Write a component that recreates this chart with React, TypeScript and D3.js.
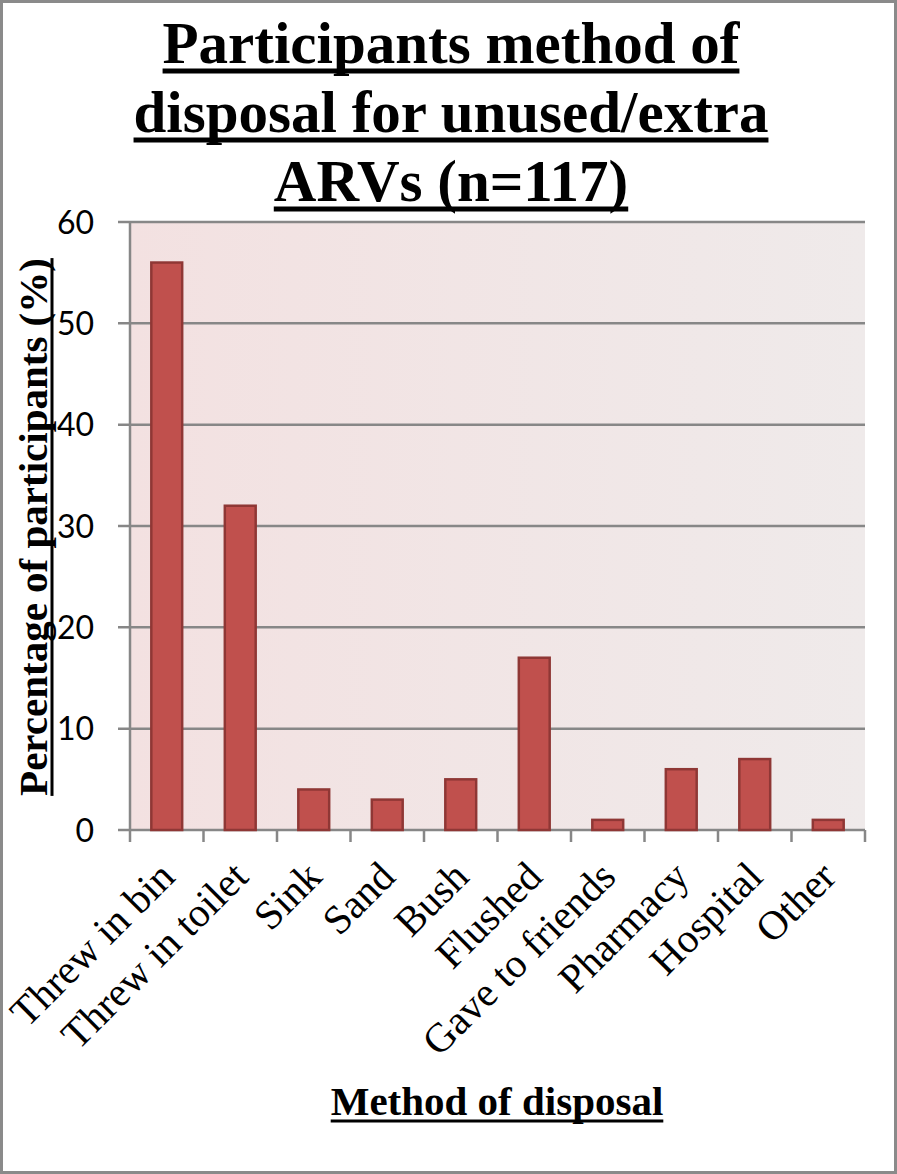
import React, { useEffect, useRef } from "react";
import * as d3 from "d3";

const categories = [
  "Threw in bin",
  "Threw in toilet",
  "Sink",
  "Sand",
  "Bush",
  "Flushed",
  "Gave to friends",
  "Pharmacy",
  "Hospital",
  "Other",
];
const percentages = [56, 32, 4, 3, 5, 17, 1, 6, 7, 1];
const yTicks = [0, 10, 20, 30, 40, 50, 60];
const titleLines = ["Participants method of", "disposal for unused/extra", "ARVs (n=117)"];
const yAxisTitle = "Percentage of participants (%)";
const xAxisTitle = "Method of disposal";

const W = 897;
const H = 1174;
const SERIF = "'Liberation Serif', 'Times New Roman', serif";
const SANS = "Lato, 'Liberation Sans', sans-serif";

const App = () => {
  const svgRef = useRef<SVGSVGElement>(null);

  useEffect(() => {
    const root = d3.select(svgRef.current);
    root.selectAll("*").remove();

    const margin = { top: 222, right: 32, bottom: 344, left: 130 };
    const innerW = W - margin.left - margin.right;
    const innerH = H - margin.top - margin.bottom;

    // plot area gradient (pinkish left -> greyish right)
    const defs = root.append("defs");
    const grad = defs
      .append("linearGradient")
      .attr("id", "plotBg")
      .attr("x1", "0%")
      .attr("x2", "100%")
      .attr("y1", "0%")
      .attr("y2", "0%");
    grad.append("stop").attr("offset", "0%").attr("stop-color", "#f3e1e1");
    grad.append("stop").attr("offset", "100%").attr("stop-color", "#efeaea");

    // outer frame
    root
      .append("rect")
      .attr("x", 1.5)
      .attr("y", 1.5)
      .attr("width", W - 3)
      .attr("height", H - 3)
      .attr("fill", "#fff")
      .attr("stroke", "#8a8a8a")
      .attr("stroke-width", 3);

    const x = d3.scaleBand<string>().domain(categories).range([0, innerW]).padding(0);
    const y = d3.scaleLinear().domain([0, 60]).range([innerH, 0]);
    const bw = x.bandwidth();
    const barW = bw * 0.42;

    const g = root.append("g").attr("transform", `translate(${margin.left},${margin.top})`);

    g.append("rect")
      .attr("x", 0)
      .attr("y", 0)
      .attr("width", innerW)
      .attr("height", innerH)
      .attr("fill", "url(#plotBg)");

    // gridlines + y ticks
    g.selectAll(".grid")
      .data(yTicks)
      .enter()
      .append("line")
      .attr("x1", -12)
      .attr("x2", innerW)
      .attr("y1", (d) => y(d))
      .attr("y2", (d) => y(d))
      .attr("stroke", "#878787")
      .attr("stroke-width", 2.5);

    g.selectAll(".ylab")
      .data(yTicks)
      .enter()
      .append("text")
      .attr("x", -36)
      .attr("y", (d) => y(d))
      .attr("dy", "0.36em")
      .attr("text-anchor", "end")
      .style("font-family", SANS)
      .style("font-size", "32px")
      .attr("fill", "#000")
      .text((d) => d);

    // y axis line
    g.append("line")
      .attr("x1", 0)
      .attr("x2", 0)
      .attr("y1", 0)
      .attr("y2", innerH + 12)
      .attr("stroke", "#878787")
      .attr("stroke-width", 2.5);

    // x ticks at band edges
    const edges = categories.map((c) => x(c) as number).concat([innerW]);
    g.selectAll(".xtick")
      .data(edges.slice(1))
      .enter()
      .append("line")
      .attr("x1", (d) => d)
      .attr("x2", (d) => d)
      .attr("y1", innerH)
      .attr("y2", innerH + 12)
      .attr("stroke", "#878787")
      .attr("stroke-width", 2.5);

    // bars
    g.selectAll(".bar")
      .data(percentages)
      .enter()
      .append("rect")
      .attr("x", (d, i) => (x(categories[i]) as number) + (bw - barW) / 2)
      .attr("y", (d) => y(d))
      .attr("width", barW)
      .attr("height", (d) => innerH - y(d))
      .attr("fill", "#c0504d")
      .attr("stroke", "#8f3735")
      .attr("stroke-width", 2.5);

    // category labels, rotated
    g.selectAll(".xlab")
      .data(categories)
      .enter()
      .append("text")
      .attr(
        "transform",
        (d) => `translate(${(x(d) as number) + bw / 2 + 10},${innerH + 49}) rotate(-45)`
      )
      .attr("text-anchor", "end")
      .style("font-family", SERIF)
      .style("font-size", "41px")
      .attr("fill", "#000")
      .text((d) => d);

    // helper: bold underlined text
    const underlined = (
      parent: d3.Selection<any, unknown, null, undefined>,
      label: string,
      size: number,
      off: number,
      thick: number
    ) => {
      const t = parent
        .append("text")
        .attr("x", 0)
        .attr("y", 0)
        .attr("text-anchor", "middle")
        .style("font-family", SERIF)
        .style("font-weight", "bold")
        .style("font-size", `${size}px`)
        .attr("fill", "#000")
        .text(label);
      const w = (t.node() as SVGTextElement).getComputedTextLength();
      parent
        .append("rect")
        .attr("x", -w / 2)
        .attr("y", off)
        .attr("width", w)
        .attr("height", thick)
        .attr("fill", "#000");
    };

    // title
    const baselines = [63, 132, 201];
    titleLines.forEach((line, i) => {
      const tg = root.append("g").attr("transform", `translate(451,${baselines[i]})`);
      underlined(tg, line, 59, 5.5, 5);
    });

    // y axis title
    const yg = root.append("g").attr("transform", "translate(47,527) rotate(-90)");
    underlined(yg, yAxisTitle, 41, 3.5, 3);

    // x axis title
    const xg = root.append("g").attr("transform", "translate(497,1115)");
    underlined(xg, xAxisTitle, 41, 4.5, 3);
  }, []);

  return (
    <svg
      ref={svgRef}
      width={W}
      height={H}
      style={{ position: "absolute", left: 0, top: 0, display: "block" }}
    />
  );
};

export default App;
